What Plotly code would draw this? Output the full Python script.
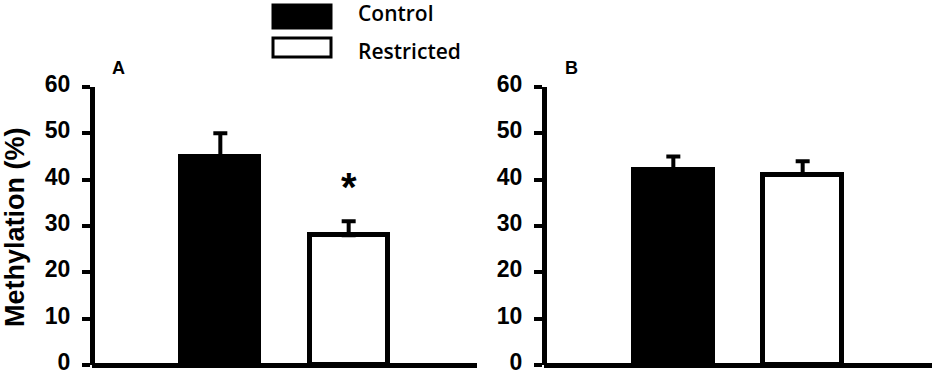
import plotly.graph_objects as go

groups = ["Control", "Restricted"]
panel_labels = ["A", "B"]
values_A = [45, 28]
errors_A = [5, 3]
values_B = [42, 41]
errors_B = [3, 3]
y_ticks = [0, 10, 20, 30, 40, 50, 60]
y_title = "Methylation (%)"
sig_marker = "*"

W, H = 935, 376
fill_colors = ["black", "white"]

fig = go.Figure()

panels = [("x", "y", values_A, errors_A), ("x2", "y2", values_B, errors_B)]
for xa, ya, vals, errs in panels:
    fig.add_trace(go.Bar(
        x=[0, 1], y=vals, xaxis=xa, yaxis=ya, width=0.61,
        marker=dict(color=fill_colors, line=dict(color="black", width=5)),
        error_y=dict(type="data", array=errs, arrayminus=[0, 0], symmetric=False,
                     color="black", thickness=4, width=7),
        showlegend=False, hoverinfo="skip", cliponaxis=False,
    ))

tickfont = dict(family="Liberation Sans", size=23, color="black", weight="bold")

def xaxis(domain, ypos):
    return dict(domain=domain, range=[-1.0, 2.0], showline=True, linecolor="black",
                linewidth=5, showticklabels=False, ticks="", showgrid=False,
                zeroline=False, anchor="free", position=ypos, fixedrange=True,
                automargin=False)

def yaxis(domain, xpos):
    return dict(domain=domain, range=[0, 60], tickvals=y_ticks, showline=True,
                linecolor="black", linewidth=5, ticks="outside", ticklen=8,
                tickwidth=4, tickcolor="black", tickfont=tickfont, showgrid=False,
                zeroline=False, anchor="free", position=xpos, fixedrange=True,
                automargin=False, ticklabeloverflow="allow", ticklabelstandoff=7,
                ticklabelshift=-3)

ydom = [11 / H, 289 / H]
fig.update_layout(
    width=W, height=H, margin=dict(l=0, r=0, t=0, b=0, autoexpand=False),
    paper_bgcolor="white", plot_bgcolor="white", showlegend=False, bargap=0,
    xaxis=xaxis([92 / W, 477 / W], 11 / H),
    yaxis=yaxis(ydom, 92 / W),
    xaxis2=xaxis([544 / W, 932 / W], 11 / H),
    yaxis2=yaxis(ydom, 544 / W),
)

# y title
fig.add_annotation(text=y_title, xref="paper", yref="paper", x=15 / W, y=(376 - 227) / H,
                   textangle=-90, showarrow=False, xanchor="center", yanchor="middle",
                   font=dict(family="Liberation Sans", size=27, color="black", weight="bold"))

# panel labels
for lbl, px in zip(panel_labels, [119, 571]):
    fig.add_annotation(text=lbl, xref="paper", yref="paper", x=px / W, y=(376 - 68) / H,
                       showarrow=False, xanchor="center", yanchor="middle",
                       font=dict(family="Liberation Sans", size=18, color="black", weight="bold"))

# significance marker above restricted bar in panel A
fig.add_annotation(text=sig_marker, x=1, y=values_A[1] + errors_A[1], xref="x", yref="y",
                   yshift=34, showarrow=False, xanchor="center", yanchor="middle",
                   font=dict(family="Liberation Sans", size=40, color="black", weight="bold"))

# legend
leg = [(groups[0], "black", 5, 28, 13), (groups[1], "white", 38, 57, 51)]
for name, col, y0, y1, ty in leg:
    fig.add_shape(type="rect", xref="paper", yref="paper",
                  x0=273 / W, x1=331 / W, y0=(H - y1) / H, y1=(H - y0) / H,
                  fillcolor=col, line=dict(color="black", width=3))
    fig.add_annotation(text=name, xref="paper", yref="paper", x=356 / W, y=(H - ty) / H,
                       showarrow=False, xanchor="left", yanchor="middle",
                       font=dict(family="Open Sans", size=21, color="black", weight=600))

fig.write_html("out.html", config={"displayModeBar": False},
               post_script="document.body.style.margin='0';")
